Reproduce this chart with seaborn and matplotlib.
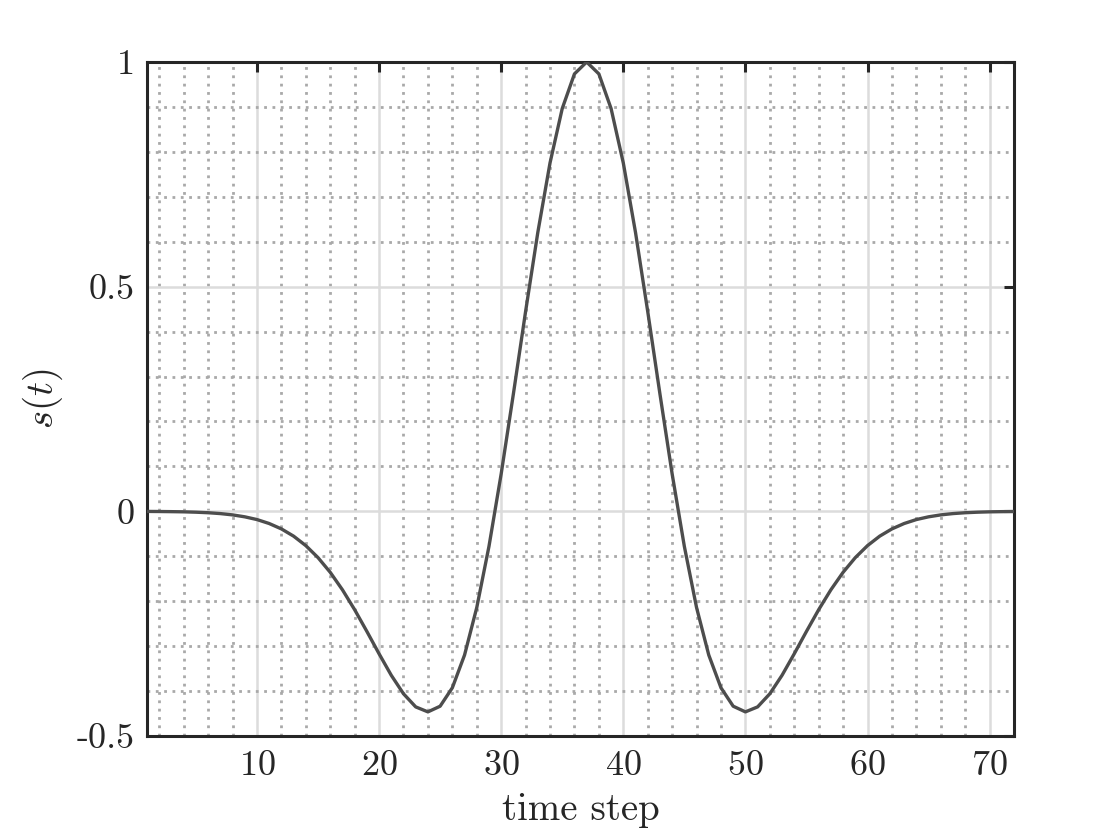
import numpy as np
import pandas as pd
import matplotlib
matplotlib.use("Agg")
import matplotlib.pyplot as plt
import seaborn as sns
from matplotlib.ticker import MultipleLocator, FixedLocator, FixedFormatter

# -----------------------------
# Data
# -----------------------------
time_step = list(range(1, 73))

left_half = [
    -0.0002, -0.0004, -0.0007, -0.0011, -0.0019, -0.0031, -0.0050, -0.0079,
    -0.0122, -0.0183, -0.0271, -0.0391, -0.0552, -0.0763, -0.1030, -0.1357,
    -0.1746, -0.2189, -0.2672, -0.3170, -0.3649, -0.4060, -0.4352, -0.4463,
    -0.4337, -0.3927, -0.3198, -0.2142, -0.0780, 0.0834, 0.2614, 0.4449,
    0.6207, 0.7754, 0.8964, 0.9735,
]
peak = [1.0]
right_half = [
    0.9735, 0.8964, 0.7754, 0.6207, 0.4449, 0.2614, 0.0834, -0.0780,
    -0.2142, -0.3198, -0.3927, -0.4337, -0.4463, -0.4352, -0.4060, -0.3649,
    -0.3170, -0.2672, -0.2189, -0.1746, -0.1357, -0.1030, -0.0763, -0.0552,
    -0.0391, -0.0271, -0.0183, -0.0122, -0.0079, -0.0050, -0.0031, -0.0019,
    -0.0011, -0.0007, -0.0004,
]
signal = left_half + peak + right_half

x_ticks = [10, 20, 30, 40, 50, 60, 70]
y_ticks = [-0.5, 0, 0.5, 1]
y_tick_labels = ["-0.5", "0", "0.5", "1"]

df = pd.DataFrame({"t": time_step, "s": signal})

# -----------------------------
# Style
# -----------------------------
sns.set_theme(style="white")
plt.rcParams["font.family"] = "serif"
plt.rcParams["font.serif"] = ["cmr10", "DejaVu Serif"]
plt.rcParams["mathtext.fontset"] = "cm"
plt.rcParams["axes.formatter.use_mathtext"] = True

fig = plt.figure(figsize=(11.2, 8.4), dpi=100)
ax = fig.add_axes([0.1313, 0.1238, 0.7741, 0.8024])

sns.lineplot(data=df, x="t", y="s", ax=ax, color="#4d4d4d", linewidth=2.4, zorder=3)

ax.set_xlim(1, 72)
ax.set_ylim(-0.5, 1)

ax.xaxis.set_major_locator(FixedLocator(x_ticks))
ax.xaxis.set_minor_locator(MultipleLocator(2))
ax.yaxis.set_major_locator(FixedLocator(y_ticks))
ax.yaxis.set_major_formatter(FixedFormatter(y_tick_labels))
ax.yaxis.set_minor_locator(MultipleLocator(0.1))

ax.grid(which="major", color="#dcdcdc", linestyle="-", linewidth=1.8, zorder=0)
ax.grid(which="minor", color="#a9a9a9", linestyle=(0, (1, 2)), linewidth=2.0, zorder=0)
ax.set_axisbelow(True)

ax.tick_params(which="major", direction="in", length=7, width=2.2,
               top=True, right=True, labelsize=26, color="#262626",
               labelcolor="#262626")
ax.tick_params(axis="y", pad=9)
ax.tick_params(axis="x", pad=10)
ax.tick_params(which="minor", length=0)

for sp in ax.spines.values():
    sp.set_visible(True)
    sp.set_linewidth(2.2)
    sp.set_color("#262626")

ax.set_xlabel("time step", fontsize=28, color="#262626", labelpad=8)
ax.set_ylabel(r"$s(t)$", fontsize=28, color="#262626", labelpad=8)

fig.savefig("out.png", dpi=100)
